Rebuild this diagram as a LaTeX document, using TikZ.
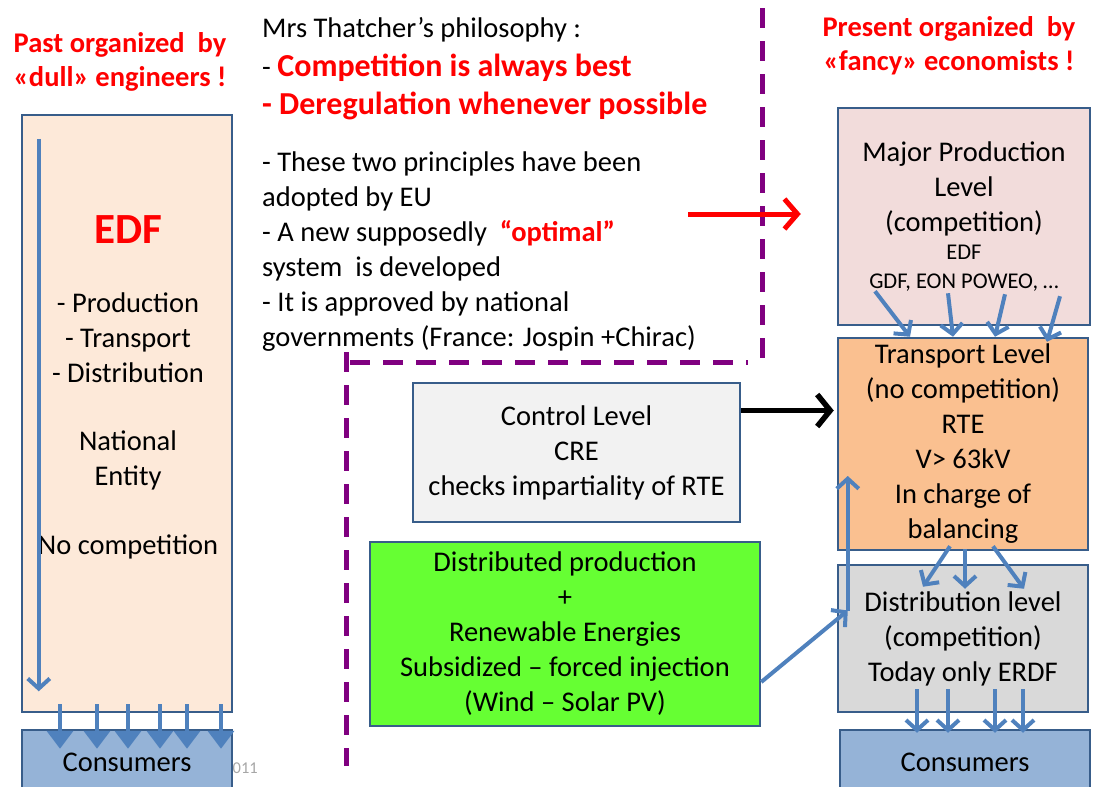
\documentclass[tikz,border=0pt]{standalone}
\usepackage{fontspec}
\setmainfont{Carlito}
\usepackage{xcolor}
\definecolor{BOXLINE}{HTML}{385D8A}
\definecolor{FLOWCOLOR}{HTML}{4F81BD}
\definecolor{EDFCOLOR}{HTML}{FDE9D9}
\definecolor{CONSCOLOR}{HTML}{95B3D7}
\definecolor{PRODCOLOR}{HTML}{F2DCDB}
\definecolor{TRANSCOLOR}{HTML}{FAC090}
\definecolor{DISTCOLOR}{HTML}{D9D9D9}
\definecolor{CTRLCOLOR}{HTML}{F2F2F2}
\definecolor{GREENCOLOR}{HTML}{66FF33}
\definecolor{DASHCOLOR}{HTML}{800080}
\usetikzlibrary{arrows.meta,positioning,calc}
\newcommand\diagfont{\fontsize{28.5}{35}\selectfont}
\newcommand\smallfont{\fontsize{22.5}{28}\selectfont}
\newcommand\redbold{\color{red}\fontsize{32}{37}\selectfont\bfseries}
\tikzset{
  basic-style/.style = {
    rectangle, draw=BOXLINE, line width=2.5pt,
    fill=#1,
    inner sep=2pt,
    align=center,
    font=\diagfont
  },
  edf-style/.style = {
    basic-style=EDFCOLOR,
    minimum width=210pt, minimum height=597pt
  },
  cons-style/.style = {
    basic-style=CONSCOLOR,
    minimum width=210pt, minimum height=64pt
  },
  prod-style/.style = {
    basic-style=PRODCOLOR,
    minimum width=252pt, minimum height=217pt
  },
  trans-style/.style = {
    basic-style=TRANSCOLOR,
    minimum width=250pt, minimum height=212pt
  },
  dist-style/.style = {
    basic-style=DISTCOLOR,
    minimum width=250pt, minimum height=147pt
  },
  ctrl-style/.style = {
    basic-style=CTRLCOLOR,
    minimum width=327pt, minimum height=139pt
  },
  green-style/.style = {
    basic-style=GREENCOLOR,
    minimum width=390pt, minimum height=184pt
  },
  title-style/.style = {
    align=center, text=red,
    font=\fontsize{28.5}{34}\selectfont\bfseries
  },
  text-style/.style = {
    align=left, inner sep=0pt,
    font=\diagfont
  },
  flow-style/.style = {
    draw=FLOWCOLOR, line width=4pt,
    -{Straight Barb[length=10pt,width=22pt]}
  },
  drop-style/.style = {
    draw=FLOWCOLOR, line width=4pt,
    -{Triangle[length=18pt,width=26pt]}
  },
  border-style/.style = {
    draw=DASHCOLOR, line width=5pt,
    dash pattern=on 20pt off 13pt
  }
}

\begin{document}
\begin{tikzpicture}[x=1pt,y=-1pt]
    \clip (0,0) rectangle (1093,787);

    %%% titles
    \node[title-style] (pastTitle) at (120,62) {Past organized\ \ by\\«dull» engineers !};
    \node[title-style] (presentTitle) at (949,46) {Present organized\ \ by\\«fancy» economists !};

    %%% past: one national entity
    \node[text=gray!70,font=\fontsize{16.5}{20}\selectfont,anchor=east,inner sep=0pt] (year) at (258,768) {2011};
    \node[edf-style] (edf) at (127,413.5) {};
    \node[cons-style] (pastCons) at (127,762) {Consumers};
    \node[text=red,font=\fontsize{43}{48}\selectfont\bfseries] (edfName) at (128,230) {EDF};
    \node[align=center,font=\diagfont] (edfRoles) at (128,426)
      {- Production\\- Transport\\- Distribution\\[33pt]National\\Entity\\[34pt]No competition};

    %%% philosophy
    \node[text-style,anchor=north west] (thatcher) at (262,17) {Mrs Thatcher’s philosophy :\\[4.5pt]
      - {\redbold Competition is always best}\\[2.5pt]
      {\redbold - Deregulation whenever possible}\\[22pt]
      - These two principles have been\\
      adopted by EU\\
      - A new supposedly\ \ {\redbold\fontsize{28.5}{35}\selectfont “optimal”}\\
      system\ \ is developed\\
      - It is approved by national\\
      governments (France: Jospin +Chirac)};

    %%% present: levels
    \node[prod-style] (prod) at (964,216.5)
      {Major Production\\Level\\(competition)\\[-7pt]{\smallfont EDF}\\[-6pt]{\smallfont GDF, EON POWEO, \dots}};
    \node[trans-style] (trans) at (963,444)
      {Transport Level\\(no competition)\\RTE\\V> 63kV\\In charge of\\balancing};
    \node[dist-style] (dist) at (963,638.5)
      {Distribution level\\(competition)\\Today only ERDF};
    \node[cons-style,minimum width=250pt] (presentCons) at (965,762) {Consumers};
    \node[ctrl-style] (ctrl) at (576.5,452.5)
      {Control Level\\CRE\\checks impartiality of RTE};
    \node[green-style] (green) at (565,634)
      {Distributed production\\+\\Renewable Energies\\Subsidized -- forced injection\\(Wind -- Solar PV)};

    %%% dashed borders
    \draw[border-style] (762,8) -- (762,358);
    \draw[border-style] (350,362) -- (748,362);
    \draw[border-style] (346,352) -- (346,766);

    %%% past flows
    \draw[flow-style] ([xshift=18pt,yshift=-25pt]edf.north west) -- ([xshift=18pt,yshift=22pt]edf.south west);
    \foreach \dx in {-67,-30,1,33,60,94}
      \draw[drop-style] ([xshift=\dx pt,yshift=9pt]edf.south) -- ([xshift=\dx pt,yshift=-20pt]pastCons.north);

    %%% present flows
    \coordinate (redStart) at (688,214);
    \coordinate (redEnd) at (redStart -| prod.west);
    \draw[red,line width=5pt,-{Straight Barb[length=13pt,width=30pt]}] (redStart) -- ([xshift=-36pt]redEnd);
    \draw[line width=5.5pt,-{Straight Barb[length=13pt,width=32pt]}]
      ([yshift=42pt]ctrl.east) -- ([yshift=42pt,xshift=-3pt]ctrl.east -| trans.west);
    \draw[flow-style] ([xshift=-89pt,yshift=35pt]prod.south) -- ([xshift=-53pt]trans.north);
    \draw[flow-style] ([xshift=-16pt,yshift=33pt]prod.south) -- ([xshift=-10pt]trans.north);
    \draw[flow-style] ([xshift=41pt,yshift=32pt]prod.south) -- ([xshift=32pt]trans.north);
    \draw[flow-style] ([xshift=96pt,yshift=30pt]prod.south) -- ([xshift=84pt,yshift=-5pt]trans.north);
    \draw[flow-style] ([xshift=-13pt,yshift=5pt]trans.south) -- ([xshift=-40pt,yshift=-23pt]dist.north);
    \draw[flow-style] ([xshift=2pt,yshift=2pt]trans.south) -- ([xshift=2pt,yshift=-25pt]dist.north);
    \draw[flow-style] ([xshift=30pt,yshift=5pt]trans.south) -- ([xshift=61pt,yshift=-25pt]dist.north);
    \foreach \dx in {-48,-17,30,58}
      \draw[flow-style] ([xshift=\dx pt+2pt,yshift=24pt]dist.south) -- ([xshift=\dx pt,yshift=-4pt]presentCons.north);
    \coordinate (joint) at ([xshift=11pt,yshift=28pt]dist.west);
    \coordinate (jointTop) at ([xshift=11pt,yshift=-32pt]trans.west);
    \draw[flow-style] ([yshift=-48pt]green.east) -- (joint);
    \draw[flow-style] (joint) -- (jointTop);
\end{tikzpicture}
\end{document}
